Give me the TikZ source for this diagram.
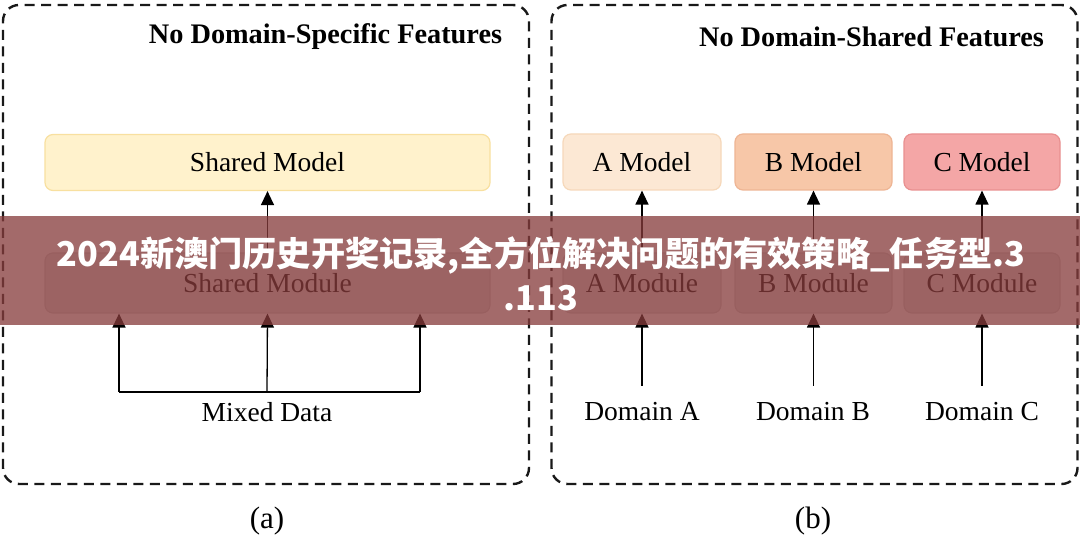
\documentclass[tikz,border=0pt]{standalone}
\usepackage{fontspec}
\setmainfont{Liberation Serif}
\newfontfamily\cjk{Noto Sans CJK SC}
\usetikzlibrary{arrows.meta}
\definecolor{shfill}{HTML}{FFF2CC}
\definecolor{shdraw}{HTML}{F8E0A0}
\definecolor{afill}{HTML}{FCE8D4}
\definecolor{adraw}{HTML}{F6D8BA}
\definecolor{bfill}{HTML}{F7C7A8}
\definecolor{bdraw}{HTML}{EEB594}
\definecolor{cfill}{HTML}{F4A6A6}
\definecolor{cdraw}{HTML}{E99090}
\definecolor{modfill}{HTML}{E2E2E2}
\definecolor{moddraw}{HTML}{D0D0D0}
\definecolor{bandc}{HTML}{873C3C}
\tikzset{
  panelbox/.style={draw=black!90, line width=2.4pt, dash pattern=on 10pt off 6.5pt, rounded corners=16pt, minimum width=526pt, minimum height=479pt, inner sep=0pt},
  boxbase/.style={rounded corners=8pt, line width=1.2pt, font=\fontsize{27.5}{33}\selectfont, inner sep=0pt},
  modelbox/.style={boxbase, minimum height=56pt},
  modbox/.style={boxbase, fill=modfill, draw=moddraw, minimum height=60pt},
  lbl/.style={font=\fontsize{27.5}{33}\selectfont, inner sep=0pt},
  ttl/.style={font=\fontsize{28.3}{33}\selectfont\bfseries, inner sep=0pt},
  sub/.style={font=\fontsize{31}{36}\selectfont, inner sep=0pt},
  arr/.style={line width=1.3pt, -{Triangle[width=13pt,length=14pt]}},
  ln/.style={line width=1.3pt}
}
\begin{document}
\begin{tikzpicture}[x=1pt,y=-1pt]
\useasboundingbox (0,0) rectangle (1080,545);
\fill[white] (0,0) rectangle (1080,545);

% panels
\node[panelbox] (pa) at (266,244.5) {};
\node[panelbox] (pb) at (814.5,244.5) {};
\node[ttl] (ta) at (325.5,37) {No Domain-Specific Features};
\node[ttl] (tb) at (871.5,37) {No Domain-Shared Features};

% panel a
\node[modelbox, fill=shfill, draw=shdraw, minimum width=445pt] (shm) at (267.5,162.5) {Shared Model};
\node[modbox, minimum width=445pt] (shd) at (267.5,283) {Shared Module};
\draw[arr] (shd.north) -- (shm.south);
\node[lbl] (mix) at (267,412) {Mixed Data};
\coordinate (j1) at (119,392);
\coordinate (j2) at (267,392);
\coordinate (j3) at (420,392);
\draw[ln] (j1) -- (j3);
\draw[arr] (j1) -- (j1 |- shd.south);
\draw[arr] (j2) -- (shd.south);
\draw[arr] (j3) -- (j3 |- shd.south);
\node[sub] (la) at (267,521) {(a)};

% panel b
\node[modelbox, fill=afill, draw=adraw, minimum width=158pt] (am) at (642,162) {A Model};
\node[modelbox, fill=bfill, draw=bdraw, minimum width=157pt] (bm) at (813.5,162) {B Model};
\node[modelbox, fill=cfill, draw=cdraw, minimum width=156pt] (cm) at (982,162) {C Model};
\node[modbox, minimum width=158pt] (amd) at (642,283) {A Module};
\node[modbox, minimum width=157pt] (bmd) at (813.5,283) {B Module};
\node[modbox, minimum width=156pt] (cmd) at (982,283) {C Module};
\draw[arr] (amd.north) -- (am.south);
\draw[arr] (bmd.north) -- (bm.south);
\draw[arr] (cmd.north) -- (cm.south);
\node[lbl] (da) at (642,412) {Domain A};
\node[lbl] (db) at (813,412) {Domain B};
\node[lbl] (dc) at (982,412) {Domain C};
\coordinate (da0) at (642,386);
\coordinate (db0) at (813.5,386);
\coordinate (dc0) at (982,386);
\draw[arr] (da0) -- (amd.south);
\draw[arr] (db0) -- (bmd.south);
\draw[arr] (dc0) -- (cmd.south);
\node[sub] (lb) at (813,521) {(b)};

% overlay band
\fill[bandc, fill opacity=0.76] (0,216) rectangle (1080,325);
\node[font=\cjk\bfseries\fontsize{34.2}{44}\selectfont, text=white, align=center, inner sep=0pt] (band) at (541,274)
  {2024新澳门历史开奖记录,全方位解决问题的有效策略\_任务型.3\\.113};
\end{tikzpicture}
\end{document}
